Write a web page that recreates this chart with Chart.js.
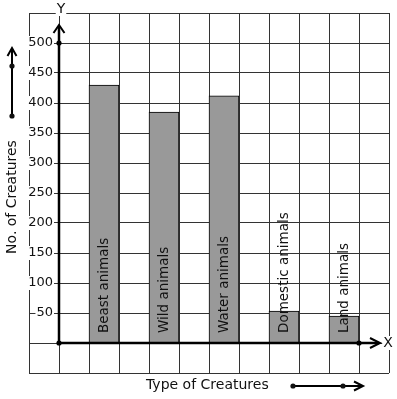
<!DOCTYPE html>
<html>
<head>
<meta charset="utf-8">
<script src="https://cdn.jsdelivr.net/npm/chart.js@4"></script>
<style>
  body { margin: 0; background: #fff; }
  #wrap { width: 397px; height: 399px; }
</style>
</head>
<body>
<div id="wrap"><canvas id="myBars"></canvas></div>
<script>
// data
const categories = ["Beast animals", "Wild animals", "Water animals", "Domestic animals", "Land animals"];
const creatures = [430, 385, 412, 53, 45];
const tickLabels = [50, 100, 150, 200, 250, 300, 350, 400, 450, 500];
const slotCount = 12; // grid columns, bars sit on every second one from slot 2

const slots = [];
const values = [];
for (let i = 0; i < slotCount; i++) { slots.push(''); values.push(null); }
categories.forEach((c, i) => { slots[2 + 2 * i] = c; values[2 + 2 * i] = creatures[i]; });

const ink = '#111';
const fontFam = '"DejaVu Sans", sans-serif';

function arrowHead(c, tx, ty, dir, len, half) {
  c.beginPath();
  if (dir === 'up') {
    c.moveTo(tx - half, ty + len); c.lineTo(tx, ty); c.lineTo(tx + half, ty + len);
  } else {
    c.moveTo(tx - len, ty - half); c.lineTo(tx, ty); c.lineTo(tx - len, ty + half);
  }
  c.stroke();
}
function dot(c, x, y) {
  c.beginPath(); c.arc(x, y, 2.6, 0, Math.PI * 2); c.fill();
}
function boxedText(c, txt, x, y, align) {
  const w = c.measureText(txt).width;
  let left = align === 'right' ? x - w : (align === 'center' ? x - w / 2 : x);
  c.fillStyle = '#fff';
  c.fillRect(left - 1, y - 7, w + 2, 14);
  c.fillStyle = ink;
  c.textAlign = align;
  c.fillText(txt, x, y);
}

const decor = {
  id: 'decor',
  afterDraw(chart) {
    const c = chart.ctx;
    const xs = chart.scales.x, ys = chart.scales.y;
    const area = chart.chartArea;
    const half = (xs.getPixelForValue(1) - xs.getPixelForValue(0)) / 2;
    const axisX = xs.getPixelForValue(1) - half;
    const originY = ys.getPixelForValue(0);
    c.save();
    c.textBaseline = 'middle';

    // y tick labels on white boxes
    c.font = '13px ' + fontFam;
    tickLabels.forEach(v => boxedText(c, String(v), axisX - 6, ys.getPixelForValue(v), 'right'));

    // axes
    c.strokeStyle = '#000';
    c.fillStyle = '#000';
    c.lineWidth = 2.5;
    const yTip = ys.getPixelForValue(530);
    const xTip = xs.getPixelForValue(11) - half + 21;
    c.beginPath();
    c.moveTo(axisX, originY); c.lineTo(axisX, yTip + 1);
    c.moveTo(axisX, originY); c.lineTo(xTip - 1, originY);
    c.stroke();
    c.lineWidth = 2;
    arrowHead(c, axisX, yTip, 'up', 8, 5.5);
    arrowHead(c, xTip, originY, 'right', 10, 5);
    dot(c, axisX, originY);
    dot(c, axisX, ys.getPixelForValue(500));
    dot(c, xs.getPixelForValue(11) - half, originY);

    c.font = '14px ' + fontFam;
    boxedText(c, 'Y', axisX + 2, area.top - 4, 'center');
    boxedText(c, 'X', area.right - 1, originY, 'center');

    // bar names written up the bars
    c.font = '13.5px ' + fontFam;
    c.fillStyle = ink;
    const meta = chart.getDatasetMeta(0);
    categories.forEach((name, i) => {
      const bar = meta.data[2 + 2 * i];
      c.save();
      c.translate(bar.x, originY - 10);
      c.rotate(-Math.PI / 2);
      c.textAlign = 'left';
      c.fillText(name, 0, 0);
      c.restore();
    });

    // axis titles with their arrows
    c.font = '14px ' + fontFam;
    c.save();
    c.translate(12, 197);
    c.rotate(-Math.PI / 2);
    c.textAlign = 'center';
    c.fillText('No. of Creatures', 0, 0);
    c.restore();
    c.textAlign = 'left';
    c.fillText('Type of Creatures', 146, 385);

    c.lineWidth = 2;
    c.beginPath(); c.moveTo(12, 116); c.lineTo(12, 48); c.stroke();
    arrowHead(c, 12, 48, 'up', 8, 4.5);
    dot(c, 12, 116); dot(c, 12, 66);
    c.beginPath(); c.moveTo(293, 386); c.lineTo(362, 386); c.stroke();
    arrowHead(c, 363, 386, 'right', 9, 4.5);
    dot(c, 293, 386); dot(c, 343, 386);
    c.restore();
  }
};

new Chart(document.getElementById('myBars'), {
  type: 'bar',
  data: {
    labels: slots,
    datasets: [{
      data: values,
      backgroundColor: '#999999',
      borderColor: '#000',
      borderWidth: 1,
      barPercentage: 1,
      categoryPercentage: 1
    }]
  },
  options: {
    responsive: true,
    maintainAspectRatio: false,
    animation: false,
    layout: { padding: { left: 29, top: 13, right: 8, bottom: 26 } },
    plugins: { legend: { display: false }, tooltip: { enabled: false } },
    scales: {
      x: {
        grid: { color: '#333', lineWidth: 1, drawTicks: false, offset: true },
        border: { display: false },
        ticks: { display: false }
      },
      y: {
        min: -50,
        max: 550,
        grid: { color: '#333', lineWidth: 1, drawTicks: false },
        border: { display: false },
        ticks: { display: false, stepSize: 50 }
      }
    }
  },
  plugins: [decor]
});
</script>
</body>
</html>
